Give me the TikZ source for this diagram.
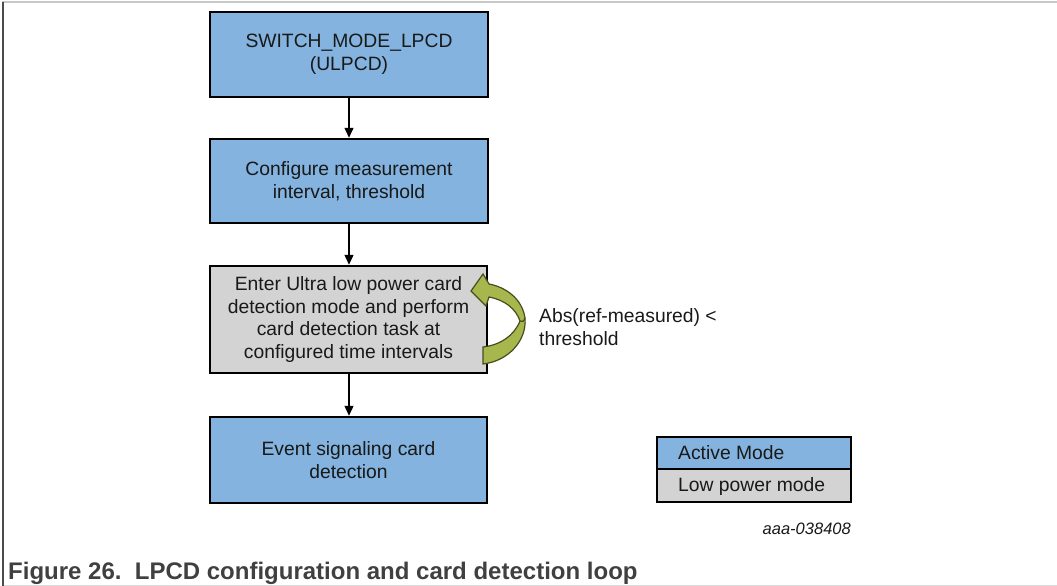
\documentclass[tikz,border=0pt]{standalone}
\usepackage{fontspec}
\setmainfont{Liberation Sans}
\usetikzlibrary{arrows.meta}
\definecolor{boxblue}{RGB}{131,179,222}
\definecolor{boxgray}{RGB}{211,211,211}
\definecolor{olivefill}{RGB}{168,182,78}
\definecolor{oliveline}{RGB}{70,78,30}
\definecolor{captiongray}{RGB}{64,64,64}
\definecolor{framegray}{RGB}{200,200,200}
\tikzset{
  flowbox/.style={draw=black, line width=2.5pt, minimum width=278pt, align=center,
    font=\fontsize{19.3}{22.5}\selectfont, text=black!90, inner sep=0pt},
  activebox/.style={flowbox, fill=boxblue},
  lowbox/.style={flowbox, fill=boxgray},
  conn/.style={line width=1.4pt, -{Triangle[length=10pt,width=9pt]}},
  plain/.style={font=\fontsize{19.3}{22.5}\selectfont, text=black!90, inner sep=0pt, align=left}
}
\begin{document}
\begin{tikzpicture}[x=1pt,y=-1pt]
\useasboundingbox (0,0) rectangle (1057,586);
% frame
\draw[framegray, line width=2pt] (2,2.5) -- (1057,2.5);
\draw[black!15, line width=1pt] (2,585) -- (1057,585);
\draw[black!70, line width=2pt] (2.5,2) -- (2.5,586);

% boxes
\node[activebox, minimum height=85pt] (b1) at (349,54.5) {SWITCH\_MODE\_LPCD\\(ULPCD)};
\node[activebox, minimum height=84pt] (b2) at (349,181) {Configure measurement\\interval, threshold};
\node[lowbox, minimum height=107pt, minimum width=277pt] (b3) at (348.5,319.5) {Enter Ultra low power card\\detection mode and perform\\card detection task at\\configured time intervals};
\node[activebox, minimum height=86pt, minimum width=277pt] (b4) at (348.5,460) {Event signaling card\\detection};

\draw[conn] (b1.south) -- (b2.north);
\draw[conn] (b2.south) -- (b3.north -| b2.south);
\draw[conn] (b3.south -| b2.south) -- (b4.north -| b2.south);

% curved loop arrow
\draw[oliveline, line width=1.2pt, fill=olivefill, line join=miter]
  (483,364) .. controls (509,361) and (527,340) .. (525,318)
  .. controls (522,298) and (505,287) .. (489,284)
  -- (483,274) -- (471,291) -- (486,306) -- (489,297)
  .. controls (505,300) and (516,309) .. (520,321)
  .. controls (514,336) and (500,345) .. (483,347) -- cycle;
\draw[oliveline, line width=1.2pt] (520,321) .. controls (522,323) and (524,321) .. (525,318);

\node[plain, anchor=west] (cond) at (539,327) {Abs(ref-measured) <\\threshold};

% legend
\node[draw=black, line width=2.5pt, fill=boxblue, minimum width=194pt, minimum height=32pt, inner sep=0pt] (la) at (754,453) {};
\node[draw=black, line width=2.5pt, fill=boxgray, minimum width=194pt, minimum height=33pt, inner sep=0pt] (lg) at (754,485.5) {};
\node[plain, anchor=west] (lat) at (678,453) {Active Mode};
\node[plain, anchor=west] (lgt) at (678,487) {Low power mode};

\node[font=\fontsize{16.5}{18}\selectfont\itshape, text=black!90, inner sep=0pt, anchor=east] (id) at (851,529) {aaa-038408};

\node[font=\fontsize{24}{26}\bfseries, text=captiongray, inner sep=0pt, anchor=base west] (cap) at (8,579) {Figure 26.\ \ LPCD configuration and card detection loop};
\end{tikzpicture}
\end{document}
